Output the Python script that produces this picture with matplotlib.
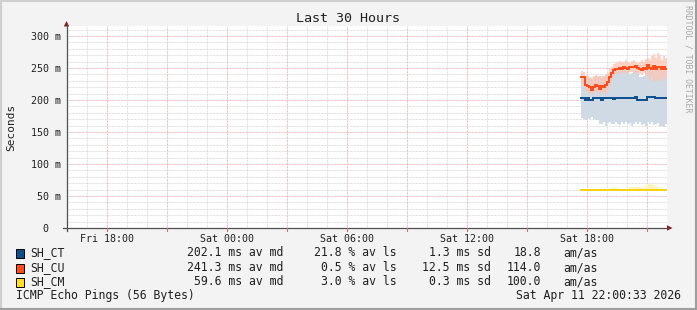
import matplotlib
matplotlib.use("Agg")
import matplotlib.pyplot as plt
from matplotlib.patches import Polygon, Rectangle
from matplotlib.lines import Line2D
import numpy as np

W, H = 697, 310

# ---------------- data ----------------
title = "Last 30 Hours"
y_label = "Seconds"
watermark = "RRDTOOL / TOBI OETIKER"
footer_left = "ICMP Echo Pings (56 Bytes)"
footer_right = "Sat Apr 11 22:00:33 2026"

# hours since Fri 16:00 (graph start); graph spans 30 hours
x_tick_hours = [2, 8, 14, 20, 26]
x_tick_labels = ["Fri 18:00", "Sat 00:00", "Sat 06:00", "Sat 12:00", "Sat 18:00"]
y_tick_values = [0, 50, 100, 150, 200, 250, 300]          # milliseconds
y_tick_labels = ["0  ", "50 m", "100 m", "150 m", "200 m", "250 m", "300 m"]

# samples every 6 minutes from Sat 17:42 to Sat 22:00
sample_start_hour = 25.7
sample_step_hour = 0.1

ct_median = [202.5, 202.5, 200.5, 202.5, 200.5, 200.5, 202.5, 202.5, 202.5, 202.5,
             200.5, 202.5, 202.5, 202.5, 202.5, 202.5, 201.0, 202.5, 202.5, 202.5,
             202.5, 202.5, 202.5, 202.5, 202.5, 202.5, 202.5, 204.0, 200.5, 200.5,
             200.5, 200.5, 200.5, 204.0, 204.0, 204.0, 204.0, 202.5, 202.5, 202.5,
             202.5, 202.5, 202.5]
ct_smoke_hi = [240, 238, 236, 234, 235, 233, 236, 238, 236, 237, 235, 238, 240, 241, 243,
               246, 247, 248, 246, 249, 247, 248, 245, 247, 240, 242, 246, 248, 247, 236,
               236, 237, 246, 248, 247, 246, 245, 247, 248, 246, 244, 247, 246]
ct_smoke_lo = [172, 170, 168, 172, 171, 173, 171, 168, 169, 163, 162, 166, 160, 164, 165,
               163, 162, 166, 163, 161, 165, 163, 166, 162, 164, 160, 163, 165, 162, 166,
               161, 163, 160, 166, 163, 165, 161, 162, 164, 160, 159, 158, 162]

cu_median = [236, 236, 224, 222, 220, 215, 221, 224, 222, 217, 222, 220, 223, 228, 236,
             242, 247, 249, 248, 250, 249, 251, 250, 249, 252, 252, 251, 253, 250, 248,
             247, 250, 249, 254, 250, 248, 253, 249, 251, 252, 249, 251, 249]
cu_smoke_hi = [246, 244, 238, 237, 236, 235, 237, 239, 238, 237, 238, 237, 238, 242, 248,
               252, 256, 258, 259, 261, 260, 259, 262, 260, 258, 261, 263, 260, 258, 259,
               262, 260, 264, 266, 262, 268, 272, 266, 274, 270, 262, 268, 265]
cu_smoke_lo = [226, 222, 214, 212, 210, 208, 212, 214, 212, 208, 213, 211, 210, 216, 222,
               230, 236, 239, 240, 242, 241, 243, 242, 240, 244, 243, 241, 244, 242, 240,
               239, 242, 240, 238, 232, 236, 230, 228, 232, 229, 235, 230, 234]

cm_median = [59.6, 59.6, 59.6, 59.6, 59.6, 59.6, 59.6, 59.6, 59.6, 59.6, 59.6, 59.6, 59.6,
             59.6, 59.6, 59.6, 59.6, 59.6, 59.6, 59.6, 59.6, 59.6, 59.6, 59.6, 59.6, 59.6,
             59.6, 59.6, 59.6, 59.6, 59.6, 59.6, 59.6, 59.6, 59.6, 59.6, 59.6, 59.6, 59.6,
             59.6, 59.6, 59.6, 59.6]
cm_smoke_hi = [60.5, 60.5, 60.5, 60.5, 60.5, 60.5, 60.5, 60.5, 60.5, 60.5, 60.5, 60.5, 60.5,
               60.5, 60.5, 63.5, 63.0, 63.5, 61.0, 60.5, 60.5, 60.5, 60.5, 60.5, 64.5, 64.0,
               64.5, 64.5, 64.0, 64.5, 63.5, 62.0, 66.0, 69.5, 68.0, 69.5, 67.0, 66.0, 64.0,
               61.0, 64.0, 60.5, 60.5]
cm_smoke_lo = [58.8, 58.8, 58.8, 58.8, 58.8, 58.8, 58.8, 58.8, 58.8, 58.8, 58.8,
               58.8, 58.8, 58.8, 58.8, 58.8, 58.8, 58.8, 58.8, 58.8, 58.8, 58.8,
               58.8, 58.8, 58.8, 58.8, 58.8, 58.8, 58.8, 58.8, 58.8, 58.8, 58.8,
               58.8, 58.8, 58.8, 58.8, 58.8, 58.8, 58.8, 58.8, 58.8, 58.8]

legend_names = ["SH_CT", "SH_CU", "SH_CM"]
legend_median = ["202.1 ms av md", "241.3 ms av md", "59.6 ms av md"]
legend_loss = ["21.8 % av ls", "0.5 % av ls", "3.0 % av ls"]
legend_sd = ["1.3 ms sd", "12.5 ms sd", "0.3 ms sd"]
legend_amas = ["18.8", "114.0", "100.0"]

# ---------------- style ----------------
line_colors = ["#0b4f8c", "#ff4a1a", "#f5d30a"]
box_colors = ["#0b4f8c", "#ff4a1a", "#ffdd22"]
smoke_colors = ["#cfdae5", "#ffc4b2", "#fff3bf"]
canvas_bg = "#f3f3f3"
mono = "DejaVu Sans Mono"


def fx(x):
    return x / W


def fy(y):
    return 1 - y / H


fig = plt.figure(figsize=(W / 100, H / 100), dpi=100, facecolor=canvas_bg)

ax_left, ax_right, ax_top, ax_bottom = 66.5, 666.5, 26, 228
ax = fig.add_axes([fx(ax_left), fy(ax_bottom), (ax_right - ax_left) / W, (ax_bottom - ax_top) / H])
ax.set_facecolor("white")
ax.set_xlim(0, 30)
ax.set_ylim(0, (ax_bottom - ax_top) / 0.64)
for s in ax.spines.values():
    s.set_visible(False)

# grid
dot = (0, (0.72, 0.72))
for h in range(0, 31):
    major = (h % 3 == 2)
    ax.axvline(h, color="#e6a8a8" if major else "#d6d6d6", lw=0.72, ls=dot, zorder=0)
for v in range(10, 320, 10):
    major = (v % 50 == 0)
    ax.axhline(v, color="#e6a8a8" if major else "#d6d6d6", lw=0.72, ls=dot, zorder=0)

n = len(ct_median)
edges = sample_start_hour + sample_step_hour * np.arange(n + 1)


def ext(a):
    return list(a) + [a[-1]]


# smoke
ax.fill_between(edges, ext(ct_smoke_lo), ext(ct_smoke_hi), step="post",
                color=smoke_colors[0], lw=0, zorder=1)
ax.fill_between(edges, ext(cu_smoke_lo), ext(cu_smoke_hi), step="post",
                color=smoke_colors[1], lw=0, alpha=0.75, zorder=2)
ax.fill_between(edges, ext(cm_smoke_lo), ext(cm_smoke_hi), step="post",
                color=smoke_colors[2], lw=0, zorder=1)

# medians
for vals, c in zip([ct_median, cu_median, cm_median], line_colors):
    ax.plot(edges, ext(vals), drawstyle="steps-post", color=c, lw=1.4, zorder=3,
            solid_joinstyle="miter")

# ticks
ax.set_xticks(x_tick_hours)
ax.set_xticklabels(x_tick_labels, fontfamily=mono, fontsize=7.2, color="#202020")
ax.set_yticks(y_tick_values)
ax.set_yticklabels(y_tick_labels, fontfamily=mono, fontsize=7.2, color="#202020")
ax.tick_params(axis="x", length=0, pad=4.0)
ax.tick_params(axis="y", length=0, pad=4.3)

# axis lines and arrows
axis_col = "#505050"
arrow_col = "#8b1a1a"
fig.add_artist(Line2D([fx(ax_left), fx(ax_left)], [fy(231), fy(24)], color=axis_col, lw=0.9))
fig.add_artist(Line2D([fx(62.5), fx(668)], [fy(228), fy(228)], color=axis_col, lw=0.9))
fig.add_artist(Polygon([[fx(63.8), fy(26.5)], [fx(69.2), fy(26.5)], [fx(66.5), fy(21)]],
                       closed=True, color=arrow_col, transform=fig.transFigure, lw=0))
fig.add_artist(Polygon([[fx(667), fy(225.3)], [fx(667), fy(230.7)], [fx(672.5), fy(228)]],
                       closed=True, color=arrow_col, transform=fig.transFigure, lw=0))
for h in range(2, 31, 3):
    xp = ax_left + h * 20
    fig.add_artist(Line2D([fx(xp), fx(xp)], [fy(228), fy(231)], color="#d07070", lw=0.8))

# texts
fig.text(fx(348.5), fy(18.7), title, ha="center", va="center", fontfamily=mono,
         fontsize=9.6, color="#202020")
fig.text(fx(11), fy(127), y_label, ha="center", va="center", rotation=90,
         fontfamily=mono, fontsize=8.0, color="#202020")
fig.text(fx(688), fy(59), watermark, ha="center", va="center", rotation=270,
         fontfamily=mono, fontsize=5.9, color="#a8a8a8")

rows_y = [252.6, 267.6, 281.6]
for i in range(3):
    y = rows_y[i]
    fig.add_artist(Rectangle((fx(15.5), fy(y + 5.0)), 8 / W, 8.6 / H, transform=fig.transFigure,
                             facecolor=box_colors[i], edgecolor="black", lw=0.7))
    kw = dict(va="center", fontfamily=mono, fontsize=8.3, color="#202020")
    fig.text(fx(30.5), fy(y), legend_names[i], ha="left", **kw)
    fig.text(fx(283.5), fy(y), legend_median[i], ha="right", **kw)
    fig.text(fx(397), fy(y), legend_loss[i], ha="right", **kw)
    fig.text(fx(490.5), fy(y), legend_sd[i], ha="right", **kw)
    fig.text(fx(541.5), fy(y), legend_amas[i], ha="right", **kw)
    fig.text(fx(563.3), fy(y), "am/as", ha="left", **kw)

kw = dict(va="center", fontfamily=mono, fontsize=8.3, color="#202020")
fig.text(fx(16.5), fy(296.0), footer_left, ha="left", **kw)
fig.text(fx(680.5), fy(296.0), footer_right, ha="right", **kw)

# 3-D frame
light, dark = "#cfcfcf", "#9e9e9e"
fig.add_artist(Line2D([0, 1], [fy(0.5), fy(0.5)], color=light, lw=1.5))
fig.add_artist(Line2D([fx(0.5), fx(0.5)], [0, 1], color=light, lw=1.5))
fig.add_artist(Line2D([0, 1], [fy(309), fy(309)], color=dark, lw=1.5))
fig.add_artist(Line2D([fx(696), fx(696)], [0, 1], color=dark, lw=1.5))

fig.savefig("out.png", dpi=100, facecolor=canvas_bg)
